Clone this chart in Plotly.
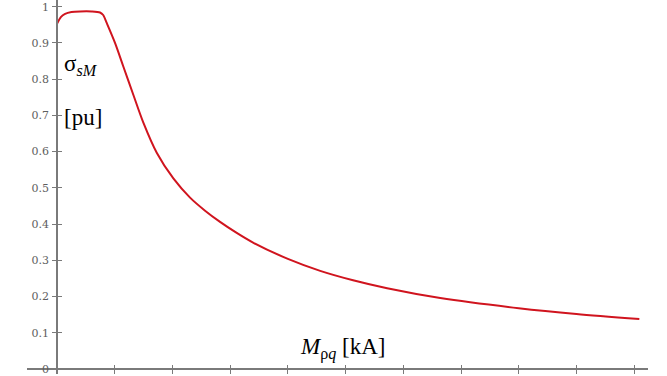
import plotly.graph_objects as go

# data (x in axis units, ticks at integers; y in pu)
m_rq = [0, 0.07, 0.14, 0.25, 0.4, 0.6, 0.745, 0.80, 0.861, 1.005, 1.149, 1.322, 1.496,
        1.728, 2.016, 2.305, 2.565, 2.825, 3.1, 3.397, 4.0, 4.56, 5.13, 5.72, 6.64, 8.0,
        9.0, 10.09]
sigma = [0.953, 0.972, 0.98, 0.985, 0.987, 0.987, 0.984, 0.977, 0.955, 0.90, 0.835, 0.757,
         0.68, 0.597, 0.526, 0.473, 0.437, 0.406, 0.377, 0.349, 0.304, 0.271, 0.245, 0.223,
         0.196, 0.168, 0.152, 0.138]
y_ticks = [0, 0.1, 0.2, 0.3, 0.4, 0.5, 0.6, 0.7, 0.8, 0.9, 1]
y_ticktext = ["0", "0.1", "0.2", "0.3", "0.4", "0.5", "0.6", "0.7", "0.8", "0.9", "1"]
x_ticks = list(range(0, 11))

W, H = 667, 376
L, R = 27, 19
x_range = [-0.52, 10.24]
y_range = [-0.0137, 1.0184]
ypos = (0 - x_range[0]) / (x_range[1] - x_range[0])
xpos = (0 - y_range[0]) / (y_range[1] - y_range[0])

SERIF = "Liberation Serif"
TICKF = "DejaVu Serif"
axcol = "#7a7a7a"
fig = go.Figure()
fig.add_trace(go.Scatter(x=m_rq, y=sigma, mode="lines",
                         line=dict(color="#d0141e", width=2, shape="spline", smoothing=0.8),
                         hoverinfo="skip", showlegend=False))
# invisible trace for overlay axes (inner half of crossing ticks)
fig.add_trace(go.Scatter(x=[0], y=[0], xaxis="x2", yaxis="y2", mode="markers",
                         marker=dict(opacity=0), showlegend=False, hoverinfo="skip"))

fig.update_layout(
    width=W, height=H,
    margin=dict(l=L, r=R, t=0, b=0),
    paper_bgcolor="white", plot_bgcolor="white",
    xaxis=dict(range=x_range, anchor="free", position=xpos, showgrid=False, zeroline=False,
               showline=True, linecolor=axcol, linewidth=1.5,
               tickvals=x_ticks, ticks="outside", ticklen=4, tickcolor=axcol,
               showticklabels=False),
    yaxis=dict(range=y_range, anchor="free", position=ypos, showgrid=False, zeroline=False,
               showline=True, linecolor=axcol, linewidth=1.5,
               tickvals=y_ticks, ticktext=y_ticktext, ticks="outside", ticklen=4,
               tickcolor=axcol, ticklabelstandoff=1, ticklabeloverflow="allow",
               tickfont=dict(family=TICKF, size=11, color="#5e5e5e")),
    xaxis2=dict(range=x_range, overlaying="x", anchor="free", position=xpos, showgrid=False,
                zeroline=False, showline=False, tickvals=x_ticks, ticks="inside", ticklen=4,
                tickcolor=axcol, showticklabels=False),
    yaxis2=dict(range=y_range, overlaying="y", anchor="free", position=ypos, showgrid=False,
                zeroline=False, showline=False, tickvals=y_ticks, ticks="inside", ticklen=4,
                tickcolor=axcol, showticklabels=False),
)

fig.add_annotation(x=0.09, y=0.84, xanchor="left", yanchor="middle", showarrow=False,
                   text="σ<sub><i>sM</i></sub>",
                   font=dict(family=SERIF, size=23, color="black"))
fig.add_annotation(x=0.09, y=0.694, xanchor="left", yanchor="middle", showarrow=False,
                   text="[pu]",
                   font=dict(family=SERIF, size=23, color="black"))
fig.add_annotation(x=4.18, y=0.057, xanchor="left", yanchor="middle", showarrow=False,
                   text="<i>M</i><sub>ρ<i>q</i></sub> [kA]",
                   font=dict(family=SERIF, size=23, color="black"))

fig.write_html("out.html")
